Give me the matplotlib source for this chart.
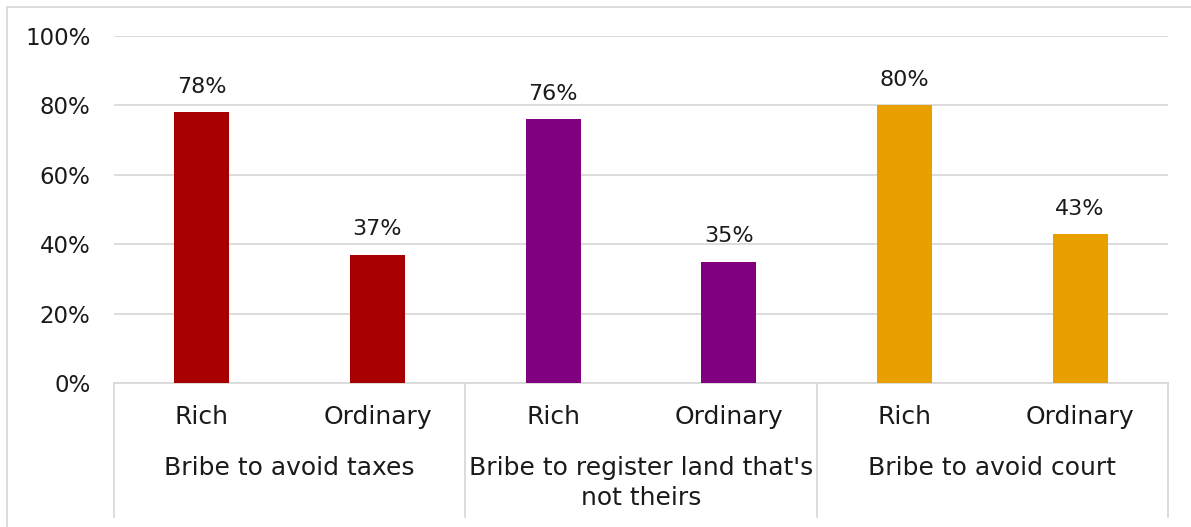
import matplotlib
matplotlib.use("Agg")
import matplotlib.pyplot as plt
from matplotlib.lines import Line2D
import matplotlib.transforms as mtransforms

plt.rcParams['font.family'] = ['DejaVu Sans']

groups = ["Bribe to avoid taxes", "Bribe to register land that's\nnot theirs", "Bribe to avoid court"]
subcats = ["Rich", "Ordinary"]
values = [78, 37, 76, 35, 80, 43]
colors = ["#A80000", "#A80000", "#800080", "#800080", "#E8A000", "#E8A000"]
yticks = [0, 20, 40, 60, 80, 100]

W, H = 1191, 527
fig = plt.figure(figsize=(W / 100, H / 100), dpi=100)
ax = fig.add_axes([114 / W, 1 - 383 / H, (1168 - 114) / W, (383 - 36) / H])

x = list(range(len(values)))
ax.bar(x, values, width=0.313, color=colors, zorder=3)
ax.set_xlim(-0.5, len(values) - 0.5)
ax.set_ylim(0, 100)
ax.set_yticks(yticks)
ax.set_yticklabels([f"{v}%" for v in yticks], fontsize=16.5, color="#1a1a1a")
ax.tick_params(axis='y', length=0, pad=17)
ax.set_xticks([])
ax.grid(axis='y', color="#d9d9d9", linewidth=1.3, zorder=0)
for s in ['top', 'right', 'left']:
    ax.spines[s].set_visible(False)
ax.spines['bottom'].set_color("#d9d9d9")
ax.spines['bottom'].set_linewidth(1.3)

for xi, v in zip(x, values):
    ax.annotate(f"{v}%", (xi, v), xytext=(0, 11), textcoords="offset points",
                ha="center", va="bottom", fontsize=16, color="#1a1a1a")

trans = mtransforms.blended_transform_factory(ax.transData, ax.transAxes)
px = 1 / (383 - 36)
for i in range(len(values)):
    ax.text(i, -(417 - 383) * px, subcats[i % 2], transform=trans, ha="center", va="center",
            fontsize=18, color="#1a1a1a")
for g, name in enumerate(groups):
    ax.text(2 * g + 0.5, -(456 - 383) * px, name, transform=trans, ha="center", va="top",
            fontsize=18, color="#1a1a1a", linespacing=1.33)
for b in [-0.5, 1.5, 3.5, 5.5]:
    ax.add_line(Line2D([b, b], [0, -(517 - 383) * px], transform=trans, color="#d9d9d9",
                       linewidth=1.3, clip_on=False))

# outer chart frame (partially visible)
fig.add_artist(Line2D([7 / W, 7 / W], [0, 1 - 7 / H], transform=fig.transFigure, color="#d9d9d9", linewidth=1.3))
fig.add_artist(Line2D([7 / W, 1], [1 - 7 / H, 1 - 7 / H], transform=fig.transFigure, color="#d9d9d9", linewidth=1.3))

fig.savefig("out.png", dpi=100)
